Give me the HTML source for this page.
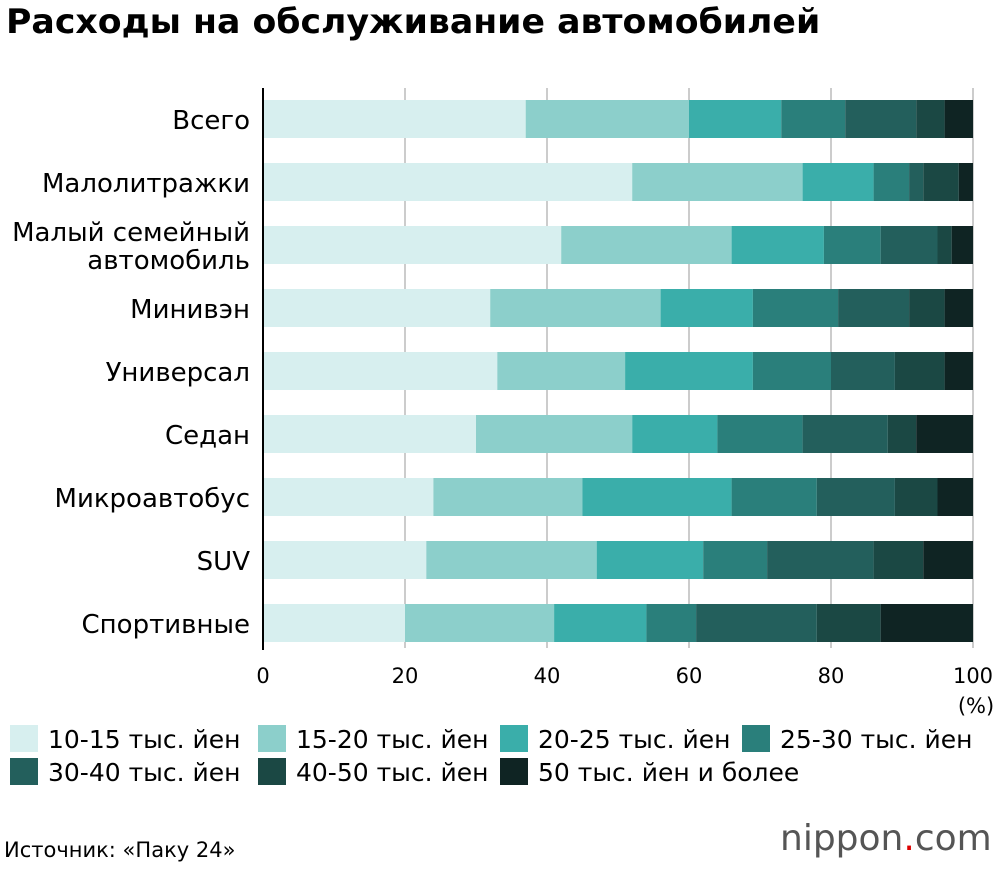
<!DOCTYPE html>
<html><head><meta charset="utf-8"><style>
body{margin:0;background:#fff;font-family:"DejaVu Sans","Liberation Sans",sans-serif;}
#wrap{position:relative;width:1000px;height:870px;overflow:hidden;}
.t{position:absolute;white-space:nowrap;}
svg text{font-family:"DejaVu Sans","Liberation Sans",sans-serif;}
</style></head><body>
<div id="wrap">
<svg id="chart" width="1000" height="870" style="position:absolute;left:0;top:0"></svg>
<div class="t" style="left:6px;top:2px;font-size:34px;font-weight:bold;transform-origin:0 0;transform:scaleX(1.02);">Расходы на обслуживание автомобилей</div>
<div class="t" style="left:4px;top:838px;font-size:21px;">Источник: «Паку 24»</div>
<div class="t" style="left:780px;top:818px;font-size:36px;color:#555;">nippon<span style="color:#d00">.</span>com</div>
</div>
<script>
const categories=["Всего","Малолитражки","Малый семейный|автомобиль","Минивэн","Универсал","Седан","Микроавтобус","SUV","Спортивные"];
const seriesNames=["10-15 тыс. йен","15-20 тыс. йен","20-25 тыс. йен","25-30 тыс. йен","30-40 тыс. йен","40-50 тыс. йен","50 тыс. йен и более"];
const s1=[37,52,42,32,33,30,24,23,20];
const s2=[23,24,24,24,18,22,21,24,21];
const s3=[13,10,13,13,18,12,21,15,13];
const s4=[9,5,8,12,11,12,12,9,7];
const s5=[10,2,8,10,9,12,11,15,17];
const s6=[4,5,2,5,7,4,6,7,9];
const s7=[4,2,3,4,4,8,5,7,13];
const ticks=[0,20,40,60,80,100];
const colors=["#d7efef","#8ccfcb","#3aaeaa","#2a7f7b","#235f5c","#1b4844","#0f2423"];
const series=[s1,s2,s3,s4,s5,s6,s7];
const NS="http://www.w3.org/2000/svg";
const svg=document.getElementById('chart');
const x0=263,x1=973,top0=100,step=63,bh=38;
const xs=v=>x0+(x1-x0)*v/100;
const yc=i=>top0+i*step;
function mk(t,a){const e=document.createElementNS(NS,t);for(const k in a)e.setAttribute(k,a[k]);svg.appendChild(e);return e;}
ticks.forEach(t=>{
 if(t>0){const g=mk('line',{x1:xs(t),x2:xs(t),y1:88,y2:648,stroke:'#ccc','stroke-width':2});
 
 }
 const l=mk('text',{x:xs(t),y:683,'text-anchor':'middle','font-size':21});
 l.textContent=t;
 
 
});
const pu=mk('text',{x:976,y:713,'text-anchor':'middle','font-size':21});pu.textContent='(%)';


categories.forEach((c,i)=>{
 let acc=0;
 series.forEach((s,k)=>{
  const r=mk('rect',{x:xs(acc),y:yc(i),width:xs(acc+s[i])-xs(acc),height:bh,fill:colors[k]});
  
  
  acc+=s[i];
 });
 const parts=c.split('|');
 parts.forEach((p,j)=>{
  const y=yc(i)+bh/2+10+(parts.length>1?(j-0.5)*28:0);
  const t=mk('text',{x:250,y:y,'text-anchor':'end','font-size':26});t.textContent=p;
  
  
 });
});
const ax=mk('line',{x1:x0,x2:x0,y1:88,y2:650,stroke:'#000','stroke-width':2});


const lx=[10,258,500,742];
seriesNames.forEach((n,k)=>{
 const x=lx[k%4],y=k<4?725:758;
 const r=mk('rect',{x:x,y:y,width:28,height:27,fill:colors[k]});
 
 
 const t=mk('text',{x:x+38,y:y+23,'font-size':25});t.textContent=n;
 
 
});
</script>
</body></html>
